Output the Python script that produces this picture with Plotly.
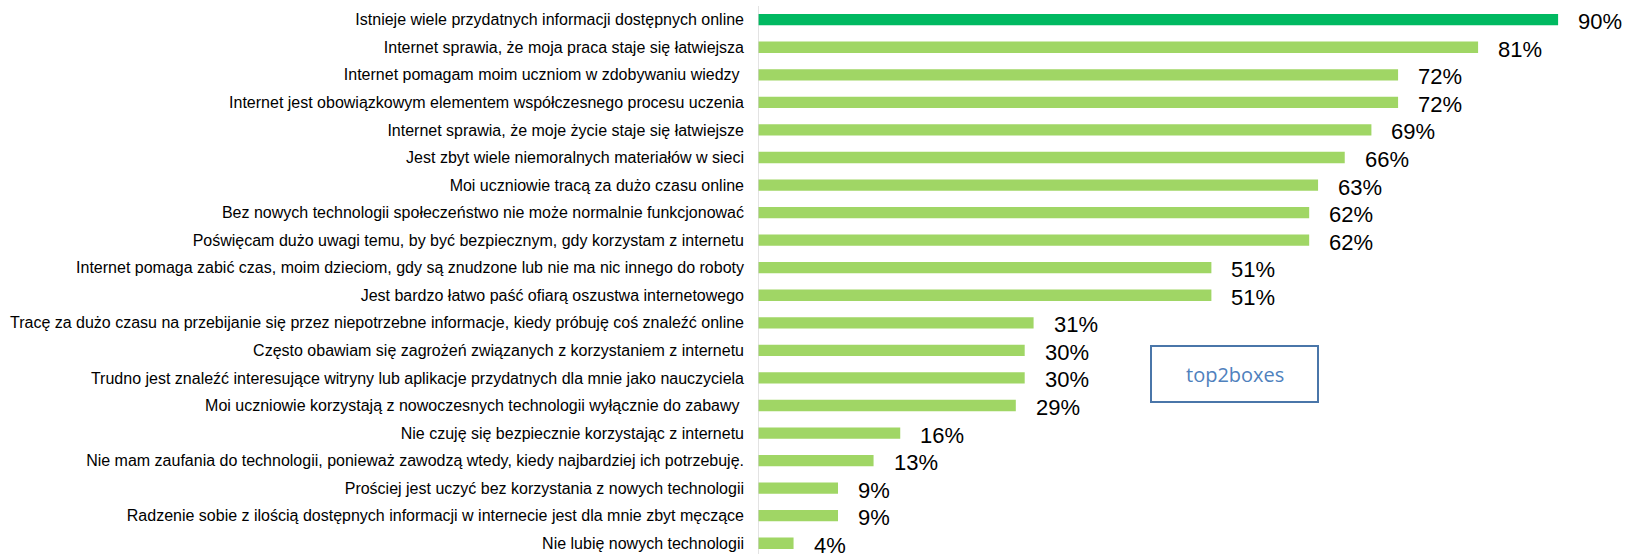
import plotly.graph_objects as go

# Survey statements (top2boxes share of agreement), highest first
statements = [
    "Istnieje wiele przydatnych informacji dostępnych online",
    "Internet sprawia, że moja praca staje się łatwiejsza",
    "Internet pomagam moim uczniom w zdobywaniu wiedzy\u00a0",
    "Internet jest obowiązkowym elementem współczesnego procesu uczenia",
    "Internet sprawia, że moje życie staje się łatwiejsze",
    "Jest zbyt wiele niemoralnych materiałów w sieci",
    "Moi uczniowie tracą za dużo czasu online",
    "Bez nowych technologii społeczeństwo nie może normalnie funkcjonować",
    "Poświęcam dużo uwagi temu, by być bezpiecznym, gdy korzystam z internetu",
    "Internet pomaga zabić czas, moim dzieciom, gdy są znudzone lub nie ma nic innego do roboty",
    "Jest bardzo łatwo paść ofiarą oszustwa internetowego",
    "Tracę za dużo czasu na przebijanie się przez niepotrzebne informacje, kiedy próbuję coś znaleźć online",
    "Często obawiam się zagrożeń związanych z korzystaniem z internetu",
    "Trudno jest znaleźć interesujące witryny lub aplikacje przydatnych dla mnie jako nauczyciela",
    "Moi uczniowie korzystają z nowoczesnych technologii wyłącznie do zabawy\u00a0",
    "Nie czuję się bezpiecznie korzystając z internetu",
    "Nie mam zaufania do technologii, ponieważ zawodzą wtedy, kiedy najbardziej ich potrzebuję.",
    "Prościej jest uczyć bez korzystania z nowych technologii",
    "Radzenie sobie z ilością dostępnych informacji w internecie jest dla mnie zbyt męczące",
    "Nie lubię nowych technologii",
]
values = [90, 81, 72, 72, 69, 66, 63, 62, 62, 51, 51, 31, 30, 30, 29, 16, 13, 9, 9, 4]

TOP_COLOR = "#00b961"
BAR_COLOR = "#a0d665"
colors = [TOP_COLOR] + [BAR_COLOR] * (len(values) - 1)

W, H = 1629, 554
LEFT = 758
PX_PER_PCT = 8.89
plot_w = W - LEFT

fig = go.Figure(
    go.Bar(
        x=values,
        y=statements,
        orientation="h",
        marker=dict(color=colors, line=dict(width=0)),
        hoverinfo="skip",
    )
)

# value labels to the right of each bar
for s, v in zip(statements, values):
    fig.add_annotation(
        x=v, y=s, xref="x", yref="y",
        text=f"{v}%", showarrow=False,
        xanchor="left", yanchor="middle",
        xshift=18, yshift=-2,
        font=dict(family="Liberation Sans, Arial, sans-serif", size=22, color="#000000"),
    )

# vertical baseline
fig.add_shape(
    type="line", xref="x", yref="paper",
    x0=0, x1=0, y0=0, y1=1 - 6 / H,
    line=dict(color="#d4d4d4", width=1.3),
    layer="above",
)

# "top2boxes" caption box
def px_x(p):
    return (p - LEFT) / plot_w

def px_y(p):
    return 1 - p / H

fig.add_shape(
    type="rect", xref="paper", yref="paper",
    x0=px_x(1151), x1=px_x(1318), y0=px_y(402), y1=px_y(346),
    line=dict(color="#4a76a9", width=2),
    fillcolor="rgba(0,0,0,0)",
)
fig.add_annotation(
    x=px_x(1234.5), y=px_y(374), xref="paper", yref="paper",
    text="top2boxes", showarrow=False,
    xanchor="center", yanchor="middle",
    font=dict(family="Open Sans, sans-serif", size=20, color="#4f81bd"),
)

fig.update_layout(
    width=W, height=H,
    margin=dict(l=LEFT, r=0, t=0, b=0, autoexpand=False),
    paper_bgcolor="white", plot_bgcolor="white",
    bargap=0.59,
    showlegend=False,
    xaxis=dict(
        range=[0, plot_w / PX_PER_PCT],
        visible=False, showgrid=False, zeroline=False, fixedrange=True,
    ),
    yaxis=dict(
        type="category",
        range=[19.39, -0.715],
        showgrid=False, zeroline=False, showline=False,
        ticks="", ticklabelstandoff=13,
        tickfont=dict(family="Liberation Sans, Arial, sans-serif", size=16, color="#000000"),
        automargin=False, fixedrange=True,
    ),
)

fig.write_html("out.html")
